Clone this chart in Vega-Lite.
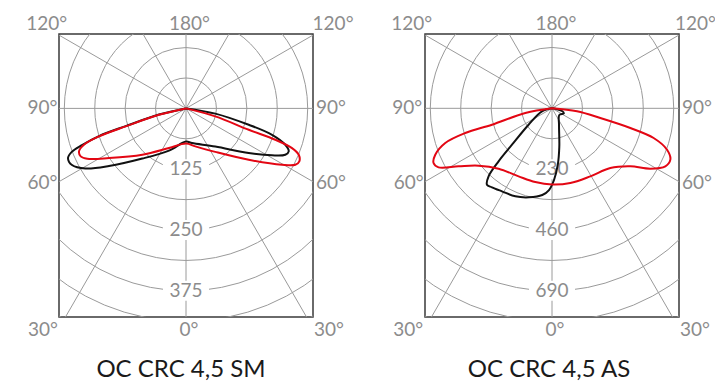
{
  "$schema": "https://vega.github.io/schema/vega-lite/v6.json",
  "background": "white",
  "padding": {"left": 25, "top": 14, "right": 0, "bottom": 0},
  "config": {"view": {"stroke": "#3a3a3a", "strokeWidth": 1.5}, "font": "Lato"},
  "spacing": 112,
  "bounds": "flush",
  "hconcat": [
    {
      "width": 254,
      "height": 283,
      "title": {"text": "OC CRC 4,5 SM", "orient": "bottom", "offset": 18, "fontSize": 24, "fontWeight": "normal", "color": "#1a1a1a", "font": "Lato", "anchor": "middle", "frame": "group", "dx": -5},
      "layer": [
        {
          "data": {"values": [{"r": 62.5}, {"r": 125, "label": "125"}, {"r": 187.5}, {"r": 250, "label": "250"}, {"r": 312.5}, {"r": 375, "label": "375"}, {"r": 437.5}, {"r": 500}]},
          "mark": {"type": "arc", "filled": false, "stroke": "#9a9a9a", "strokeWidth": 1, "theta": 0, "theta2": 6.2832, "clip": true},
          "encoding": {
            "x": {"datum": 0, "type": "quantitative", "scale": {"domain": [-261, 261], "nice": false, "zero": false}, "axis": null},
            "y": {"datum": 0, "type": "quantitative", "scale": {"domain": [-153, 429], "reverse": true, "nice": false, "zero": false}, "axis": null},
            "radius": {"field": "r", "type": "quantitative", "stack": null, "scale": {"type": "linear", "domain": [0, 261], "range": [0, 127], "zero": true, "nice": false}, "legend": null}
          }
        },
        {
          "data": {"values": [{"ex": 0, "ey": 600}, {"ex": 300, "ey": 519.6}, {"ex": -300, "ey": 519.6}, {"ex": 519.6, "ey": 300}, {"ex": -519.6, "ey": 300}, {"ex": 600, "ey": 0}, {"ex": -600, "ey": 0}, {"ex": 519.6, "ey": -300}, {"ex": -519.6, "ey": -300}, {"ex": 300, "ey": -519.6}, {"ex": -300, "ey": -519.6}, {"ex": 0, "ey": -600}]},
          "mark": {"type": "rule", "stroke": "#9a9a9a", "strokeWidth": 1, "clip": true},
          "encoding": {
            "x": {"field": "ex", "type": "quantitative", "scale": {"domain": [-261, 261], "nice": false, "zero": false}, "axis": null},
            "y": {"field": "ey", "type": "quantitative", "scale": {"domain": [-153, 429], "reverse": true, "nice": false, "zero": false}, "axis": null},
            "x2": {"datum": 0},
            "y2": {"datum": 0}
          }
        },
        {
          "data": {"values": [{"r": 125, "label": "125"}, {"r": 250, "label": "250"}, {"r": 375, "label": "375"}]},
          "mark": {"type": "point", "shape": "M-2.3,-1L2.3,-1L2.3,1L-2.3,1Z", "size": 400, "filled": true, "fill": "white", "opacity": 1, "strokeWidth": 0},
          "encoding": {
            "x": {"datum": 0, "type": "quantitative", "scale": {"domain": [-261, 261], "nice": false, "zero": false}, "axis": null},
            "y": {"field": "r", "type": "quantitative", "scale": {"domain": [-153, 429], "reverse": true, "nice": false, "zero": false}, "axis": null}
          }
        },
        {
          "data": {"values": [{"r": 125, "label": "125"}, {"r": 250, "label": "250"}, {"r": 375, "label": "375"}]},
          "mark": {"type": "text", "fontSize": 19, "color": "#8c8c8c", "align": "center", "baseline": "middle"},
          "encoding": {
            "x": {"datum": 0, "type": "quantitative", "scale": {"domain": [-261, 261], "nice": false, "zero": false}, "axis": null},
            "y": {"field": "r", "type": "quantitative", "scale": {"domain": [-153, 429], "reverse": true, "nice": false, "zero": false}, "axis": null},
            "text": {"field": "label"}
          }
        },
        {
          "data": {"values": [
            {"s": "C0-C180", "i": 1, "x": 0, "y": 0},
            {"s": "C0-C180", "i": 2, "x": -55.5, "y": 12.7},
            {"s": "C0-C180", "i": 3, "x": -123.9, "y": 36.4},
            {"s": "C0-C180", "i": 4, "x": -178.8, "y": 56.9},
            {"s": "C0-C180", "i": 5, "x": -213.8, "y": 75.4},
            {"s": "C0-C180", "i": 6, "x": -234.3, "y": 88.8},
            {"s": "C0-C180", "i": 7, "x": -242.5, "y": 102.2},
            {"s": "C0-C180", "i": 8, "x": -234.3, "y": 116.5},
            {"s": "C0-C180", "i": 9, "x": -206.6, "y": 123.7},
            {"s": "C0-C180", "i": 10, "x": -158.3, "y": 118.6},
            {"s": "C0-C180", "i": 11, "x": -89.8, "y": 103.2},
            {"s": "C0-C180", "i": 12, "x": -34.9, "y": 86.7},
            {"s": "C0-C180", "i": 13, "x": 0, "y": 68.2},
            {"s": "C0-C180", "i": 14, "x": 12.3, "y": 71.3},
            {"s": "C0-C180", "i": 15, "x": 60.2, "y": 78.5},
            {"s": "C0-C180", "i": 16, "x": 128.9, "y": 91.9},
            {"s": "C0-C180", "i": 17, "x": 176.8, "y": 96.6},
            {"s": "C0-C180", "i": 18, "x": 204.1, "y": 95.4},
            {"s": "C0-C180", "i": 19, "x": 211.1, "y": 88.4},
            {"s": "C0-C180", "i": 20, "x": 204.1, "y": 74.8},
            {"s": "C0-C180", "i": 21, "x": 176.8, "y": 54.3},
            {"s": "C0-C180", "i": 22, "x": 128.9, "y": 33.7},
            {"s": "C0-C180", "i": 23, "x": 60.2, "y": 10.7},
            {"s": "C0-C180", "i": 24, "x": 0, "y": 0},
            {"s": "C90-C270", "i": 1, "x": 0, "y": 0},
            {"s": "C90-C270", "i": 2, "x": -55.5, "y": 13.2},
            {"s": "C90-C270", "i": 3, "x": -123.9, "y": 37.0},
            {"s": "C90-C270", "i": 4, "x": -178.8, "y": 57.6},
            {"s": "C90-C270", "i": 5, "x": -209.7, "y": 74.8},
            {"s": "C90-C270", "i": 6, "x": -219.9, "y": 88.4},
            {"s": "C90-C270", "i": 7, "x": -216.4, "y": 98.7},
            {"s": "C90-C270", "i": 8, "x": -202.9, "y": 103.6},
            {"s": "C90-C270", "i": 9, "x": -158.3, "y": 102.2},
            {"s": "C90-C270", "i": 10, "x": -89.8, "y": 95.4},
            {"s": "C90-C270", "i": 11, "x": -34.9, "y": 81.6},
            {"s": "C90-C270", "i": 12, "x": 0, "y": 72.4},
            {"s": "C90-C270", "i": 13, "x": 19.1, "y": 78.1},
            {"s": "C90-C270", "i": 14, "x": 60.2, "y": 89.4},
            {"s": "C90-C270", "i": 15, "x": 128.9, "y": 105.7},
            {"s": "C90-C270", "i": 16, "x": 197.3, "y": 115.9},
            {"s": "C90-C270", "i": 17, "x": 224.7, "y": 115.9},
            {"s": "C90-C270", "i": 18, "x": 232.9, "y": 108.9},
            {"s": "C90-C270", "i": 19, "x": 231.7, "y": 95.4},
            {"s": "C90-C270", "i": 20, "x": 217.9, "y": 81.6},
            {"s": "C90-C270", "i": 21, "x": 183.6, "y": 64.5},
            {"s": "C90-C270", "i": 22, "x": 128.9, "y": 44.0},
            {"s": "C90-C270", "i": 23, "x": 60.2, "y": 16.4},
            {"s": "C90-C270", "i": 24, "x": 0, "y": 0}
          ]},
          "mark": {"type": "line", "interpolate": "catmull-rom", "strokeWidth": 2, "clip": true},
          "encoding": {
            "x": {"field": "x", "type": "quantitative", "scale": {"domain": [-261, 261], "nice": false, "zero": false}, "axis": null},
            "y": {"field": "y", "type": "quantitative", "scale": {"domain": [-153, 429], "reverse": true, "nice": false, "zero": false}, "axis": null},
            "order": {"field": "i", "type": "quantitative"},
            "color": {"field": "s", "type": "nominal", "scale": {"domain": ["C0-C180", "C90-C270"], "range": ["#111111", "#e30613"]}, "legend": null}
          }
        },
        {
          "data": {"values": [
            {"label": "120°", "x": -286.3, "y": -173.3},
            {"label": "180°", "x": 7.2, "y": -173.3},
            {"label": "120°", "x": 302.2, "y": -173.3},
            {"label": "90°", "x": -295.0, "y": 0},
            {"label": "90°", "x": 298.0, "y": 0},
            {"label": "60°", "x": -295.0, "y": 153.5},
            {"label": "60°", "x": 298.0, "y": 153.5},
            {"label": "30°", "x": -293.9, "y": 455.7},
            {"label": "0°", "x": 6.2, "y": 455.7},
            {"label": "30°", "x": 293.9, "y": 455.7}
          ]},
          "mark": {"type": "text", "fontSize": 19, "color": "#8c8c8c", "align": "center", "baseline": "middle"},
          "encoding": {
            "x": {"field": "x", "type": "quantitative", "scale": {"domain": [-261, 261], "nice": false, "zero": false}, "axis": null},
            "y": {"field": "y", "type": "quantitative", "scale": {"domain": [-153, 429], "reverse": true, "nice": false, "zero": false}, "axis": null},
            "text": {"field": "label"}
          }
        }
      ]
    },
    {
      "width": 254,
      "height": 283,
      "title": {"text": "OC CRC 4,5 AS", "orient": "bottom", "offset": 18, "fontSize": 24, "fontWeight": "normal", "color": "#1a1a1a", "font": "Lato", "anchor": "middle", "frame": "group", "dx": -3},
      "layer": [
        {
          "data": {"values": [{"r": 115}, {"r": 230, "label": "230"}, {"r": 345}, {"r": 460, "label": "460"}, {"r": 575}, {"r": 690, "label": "690"}, {"r": 805}, {"r": 920}]},
          "mark": {"type": "arc", "filled": false, "stroke": "#9a9a9a", "strokeWidth": 1, "theta": 0, "theta2": 6.2832, "clip": true},
          "encoding": {
            "x": {"datum": 0, "type": "quantitative", "scale": {"domain": [-480, 480], "nice": false, "zero": false}, "axis": null},
            "y": {"datum": 0, "type": "quantitative", "scale": {"domain": [-281, 789], "reverse": true, "nice": false, "zero": false}, "axis": null},
            "radius": {"field": "r", "type": "quantitative", "stack": null, "scale": {"type": "linear", "domain": [0, 480], "range": [0, 127], "zero": true, "nice": false}, "legend": null}
          }
        },
        {
          "data": {"values": [{"ex": 0, "ey": 1100}, {"ex": 550, "ey": 952.6}, {"ex": -550, "ey": 952.6}, {"ex": 952.6, "ey": 550}, {"ex": -952.6, "ey": 550}, {"ex": 1100, "ey": 0}, {"ex": -1100, "ey": 0}, {"ex": 952.6, "ey": -550}, {"ex": -952.6, "ey": -550}, {"ex": 550, "ey": -952.6}, {"ex": -550, "ey": -952.6}, {"ex": 0, "ey": -1100}]},
          "mark": {"type": "rule", "stroke": "#9a9a9a", "strokeWidth": 1, "clip": true},
          "encoding": {
            "x": {"field": "ex", "type": "quantitative", "scale": {"domain": [-480, 480], "nice": false, "zero": false}, "axis": null},
            "y": {"field": "ey", "type": "quantitative", "scale": {"domain": [-281, 789], "reverse": true, "nice": false, "zero": false}, "axis": null},
            "x2": {"datum": 0},
            "y2": {"datum": 0}
          }
        },
        {
          "data": {"values": [{"r": 230, "label": "230"}, {"r": 460, "label": "460"}, {"r": 690, "label": "690"}]},
          "mark": {"type": "point", "shape": "M-2.3,-1L2.3,-1L2.3,1L-2.3,1Z", "size": 400, "filled": true, "fill": "white", "opacity": 1, "strokeWidth": 0},
          "encoding": {
            "x": {"datum": 0, "type": "quantitative", "scale": {"domain": [-480, 480], "nice": false, "zero": false}, "axis": null},
            "y": {"field": "r", "type": "quantitative", "scale": {"domain": [-281, 789], "reverse": true, "nice": false, "zero": false}, "axis": null}
          }
        },
        {
          "data": {"values": [{"r": 230, "label": "230"}, {"r": 460, "label": "460"}, {"r": 690, "label": "690"}]},
          "mark": {"type": "text", "fontSize": 19, "color": "#8c8c8c", "align": "center", "baseline": "middle"},
          "encoding": {
            "x": {"datum": 0, "type": "quantitative", "scale": {"domain": [-480, 480], "nice": false, "zero": false}, "axis": null},
            "y": {"field": "r", "type": "quantitative", "scale": {"domain": [-281, 789], "reverse": true, "nice": false, "zero": false}, "axis": null},
            "text": {"field": "label"}
          }
        },
        {
          "data": {"values": [
            {"s": "C0-C180", "i": 1, "x": 0, "y": 0},
            {"s": "C0-C180", "i": 2, "x": -37.8, "y": 11.3},
            {"s": "C0-C180", "i": 3, "x": -88.5, "y": 62.0},
            {"s": "C0-C180", "i": 4, "x": -151.2, "y": 137.6},
            {"s": "C0-C180", "i": 5, "x": -201.9, "y": 200.4},
            {"s": "C0-C180", "i": 6, "x": -239.7, "y": 257.1},
            {"s": "C0-C180", "i": 7, "x": -245.8, "y": 288.9},
            {"s": "C0-C180", "i": 8, "x": -226.9, "y": 298.7},
            {"s": "C0-C180", "i": 9, "x": -189.1, "y": 313.8},
            {"s": "C0-C180", "i": 10, "x": -138.8, "y": 332.7},
            {"s": "C0-C180", "i": 11, "x": -87.0, "y": 336.5},
            {"s": "C0-C180", "i": 12, "x": -36.7, "y": 327.8},
            {"s": "C0-C180", "i": 13, "x": -11.3, "y": 308.9},
            {"s": "C0-C180", "i": 14, "x": 7.6, "y": 271.1},
            {"s": "C0-C180", "i": 15, "x": 21.9, "y": 213.2},
            {"s": "C0-C180", "i": 16, "x": 27.6, "y": 145.2},
            {"s": "C0-C180", "i": 17, "x": 26.5, "y": 62.0},
            {"s": "C0-C180", "i": 18, "x": 27.6, "y": 25.3},
            {"s": "C0-C180", "i": 19, "x": 44.6, "y": 19.7},
            {"s": "C0-C180", "i": 20, "x": 37.8, "y": 10.2},
            {"s": "C0-C180", "i": 21, "x": 12.5, "y": 1.9},
            {"s": "C0-C180", "i": 22, "x": 0, "y": 0},
            {"s": "C90-C270", "i": 1, "x": 0, "y": 0},
            {"s": "C90-C270", "i": 2, "x": -101, "y": 17.8},
            {"s": "C90-C270", "i": 3, "x": -226.9, "y": 62.0},
            {"s": "C90-C270", "i": 4, "x": -327.8, "y": 93.4},
            {"s": "C90-C270", "i": 5, "x": -403.4, "y": 131.2},
            {"s": "C90-C270", "i": 6, "x": -441.2, "y": 175.4},
            {"s": "C90-C270", "i": 7, "x": -447.7, "y": 206.8},
            {"s": "C90-C270", "i": 8, "x": -428.8, "y": 223.1},
            {"s": "C90-C270", "i": 9, "x": -353.1, "y": 219.3},
            {"s": "C90-C270", "i": 10, "x": -277.5, "y": 217.0},
            {"s": "C90-C270", "i": 11, "x": -201.9, "y": 228.4},
            {"s": "C90-C270", "i": 12, "x": -126.3, "y": 257.1},
            {"s": "C90-C270", "i": 13, "x": -63.1, "y": 278.7},
            {"s": "C90-C270", "i": 14, "x": 0, "y": 288.1},
            {"s": "C90-C270", "i": 15, "x": 69.2, "y": 282.4},
            {"s": "C90-C270", "i": 16, "x": 144.8, "y": 257.1},
            {"s": "C90-C270", "i": 17, "x": 220.4, "y": 225.7},
            {"s": "C90-C270", "i": 18, "x": 296.1, "y": 219.3},
            {"s": "C90-C270", "i": 19, "x": 371.7, "y": 228.4},
            {"s": "C90-C270", "i": 20, "x": 428.4, "y": 219.3},
            {"s": "C90-C270", "i": 21, "x": 447.3, "y": 194.3},
            {"s": "C90-C270", "i": 22, "x": 434.8, "y": 156.5},
            {"s": "C90-C270", "i": 23, "x": 384.1, "y": 112.3},
            {"s": "C90-C270", "i": 24, "x": 296.1, "y": 74.5},
            {"s": "C90-C270", "i": 25, "x": 182.6, "y": 36.7},
            {"s": "C90-C270", "i": 26, "x": 94.5, "y": 11.3},
            {"s": "C90-C270", "i": 27, "x": 0, "y": 0}
          ]},
          "mark": {"type": "line", "interpolate": "catmull-rom", "strokeWidth": 2, "clip": true},
          "encoding": {
            "x": {"field": "x", "type": "quantitative", "scale": {"domain": [-480, 480], "nice": false, "zero": false}, "axis": null},
            "y": {"field": "y", "type": "quantitative", "scale": {"domain": [-281, 789], "reverse": true, "nice": false, "zero": false}, "axis": null},
            "order": {"field": "i", "type": "quantitative"},
            "color": {"field": "s", "type": "nominal", "scale": {"domain": ["C0-C180", "C90-C270"], "range": ["#111111", "#e30613"]}, "legend": null}
          }
        },
        {
          "data": {"values": [
            {"label": "120°", "x": -530.1, "y": -318.7},
            {"label": "180°", "x": 15, "y": -318.7},
            {"label": "120°", "x": 542, "y": -318.7},
            {"label": "90°", "x": -547.1, "y": 0},
            {"label": "90°", "x": 547.9, "y": 0},
            {"label": "60°", "x": -541.4, "y": 282.4},
            {"label": "60°", "x": 547.9, "y": 282.4},
            {"label": "30°", "x": -543.3, "y": 838.2},
            {"label": "0°", "x": 11.3, "y": 838.2},
            {"label": "30°", "x": 540.3, "y": 838.2}
          ]},
          "mark": {"type": "text", "fontSize": 19, "color": "#8c8c8c", "align": "center", "baseline": "middle"},
          "encoding": {
            "x": {"field": "x", "type": "quantitative", "scale": {"domain": [-480, 480], "nice": false, "zero": false}, "axis": null},
            "y": {"field": "y", "type": "quantitative", "scale": {"domain": [-281, 789], "reverse": true, "nice": false, "zero": false}, "axis": null},
            "text": {"field": "label"}
          }
        }
      ]
    }
  ]
}
